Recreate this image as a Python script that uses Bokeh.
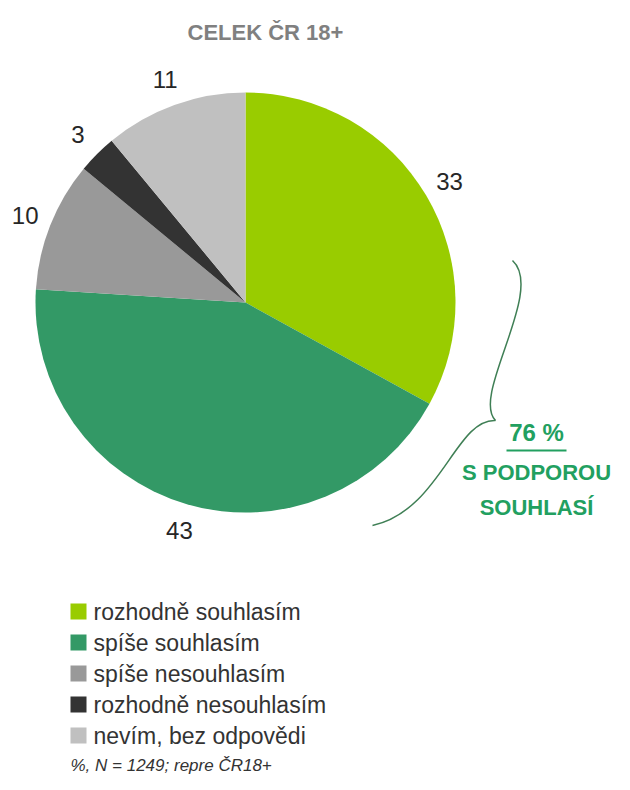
import numpy as np
from bokeh.plotting import figure
from bokeh.models import Range1d
from bokeh.core.properties import value
from bokeh.embed import file_html
from bokeh.resources import INLINE

# ---- data ----
categories = ["rozhodně souhlasím", "spíše souhlasím", "spíše nesouhlasím",
              "rozhodně nesouhlasím", "nevím, bez odpovědi"]
values = [33, 43, 10, 3, 11]
colors = ["#99cc00", "#339966", "#999999", "#333333", "#c0c0c0"]
title_text = "CELEK ČR 18+"
support_lines = ["S PODPOROU", "SOUHLASÍ"]
note_text = "%,  N = 1249; repre ČR18+"

FONT = value("Liberation Sans")

# ---- layout (image pixel coords, y down -> data y = -img_y) ----
W, H = 614, 774
p = figure(width=W, height=H, x_range=Range1d(0, W), y_range=Range1d(-H, 0),
           output_backend="svg", toolbar_location=None, x_axis_type=None, y_axis_type=None,
           min_border=0, outline_line_color=None, background_fill_color="white")
p.xgrid.visible = False
p.ygrid.visible = False

cx, cy, R = 245, 302, 210

vals = np.array(values, dtype=float)
frac = vals / vals.sum()
cum = np.concatenate([[0], np.cumsum(frac)])
start = np.pi / 2 - 2 * np.pi * cum[:-1]
end = np.pi / 2 - 2 * np.pi * cum[1:]
p.wedge(x=cx, y=-cy, radius=R, start_angle=start, end_angle=end, direction="clock",
        fill_color=colors, line_color=None)

# value labels
mid = (start + end) / 2
LR = 237
lx = cx + LR * np.cos(mid)
ly = -cy + LR * np.sin(mid)
p.text(x=lx, y=ly, text=[str(v) for v in values], text_font=FONT, text_font_size="24px",
       text_color="#262626", text_align="center", text_baseline="middle")

# title
p.text(x=[265], y=[-32], text=[title_text], text_font=FONT, text_font_size="22px",
       text_font_style="bold", text_color="#808080", text_align="center", text_baseline="middle")

# brace for agreement share
bc = "#3f7f55"
p.bezier(x0=[512], y0=[-260], x1=[495], y1=[-420], cx0=[545], cy0=[-290], cx1=[470], cy1=[-395],
         line_color=bc, line_width=1.5)
p.bezier(x0=[495], y0=[-420], x1=[372], y1=[-525], cx0=[455], cy0=[-418], cx1=[440], cy1=[-510],
         line_color=bc, line_width=1.5)

support = int(values[0] + values[1])
gc = "#22a060"
tx = 536
p.text(x=[tx], y=[-432], text=[f"{support} %"], text_font=FONT, text_font_size="24px",
       text_font_style="bold", text_color=gc, text_align="center", text_baseline="middle")
p.segment(x0=[tx - 30], y0=[-450], x1=[tx + 30], y1=[-450], line_color=gc, line_width=2)
p.text(x=[tx, tx], y=[-472, -507], text=support_lines, text_font=FONT, text_font_size="22px",
       text_font_style="bold", text_color=gc, text_align="center", text_baseline="middle")

# legend
n = len(categories)
ly0, dy = 611, 31
leg_y = [-(ly0 + i * dy) for i in range(n)]
p.rect(x=[78] * n, y=leg_y, width=16, height=16, fill_color=colors, line_color=None)
p.text(x=[93] * n, y=leg_y, text=categories, text_font=FONT, text_font_size="23px",
       text_color="#333333", text_align="left", text_baseline="middle")

# note
p.text(x=[70], y=[-765], text=[note_text], text_font=FONT, text_font_size="17px",
       text_font_style="italic", text_color="#333333", text_align="left", text_baseline="middle")

open("out.html", "w").write(file_html(p, INLINE))
